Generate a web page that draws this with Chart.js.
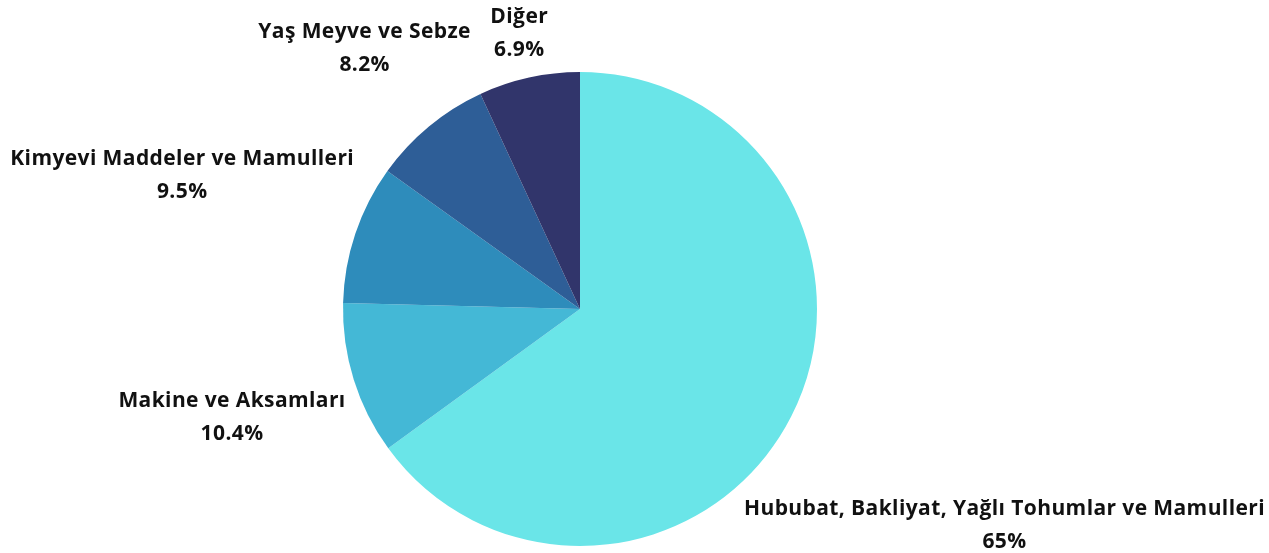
<!DOCTYPE html>
<html>
<head>
<meta charset="utf-8">
<script src="https://cdn.jsdelivr.net/npm/chart.js@4"></script>
<style>
    html, body { margin: 0; padding: 0; background: #fff; }
    #wrap { width: 1269px; height: 553px; position: relative; }
</style>
</head>
<body>
<div id="wrap"><canvas id="pieChart"></canvas></div>
<script>
const categories = [
    'Hububat, Bakliyat, Yağlı Tohumlar ve Mamulleri',
    'Makine ve Aksamları',
    'Kimyevi Maddeler ve Mamulleri',
    'Yaş Meyve ve Sebze',
    'Diğer'
];
const shares = [65, 10.4, 9.5, 8.2, 6.9];
const percentLabels = ['65%', '10.4%', '9.5%', '8.2%', '6.9%'];
const sliceColors = ['#6ae5e8', '#44b8d6', '#2e8cbb', '#2e5e97', '#31356b'];

const FONT = 'bold 21px "Open Sans", sans-serif';
const LINE_H = 33;

// two-line label outside each slice, pushed out along the mid angle
// and pulled back along the same ray if it would leave the canvas
const outsideLabels = {
    id: 'outsideLabels',
    afterDatasetsDraw(chart) {
        const ctx = chart.ctx;
        const arcs = chart.getDatasetMeta(0).data;
        ctx.save();
        ctx.font = FONT;
        ctx.letterSpacing = '0.4px';
        ctx.fillStyle = '#111';
        ctx.textAlign = 'center';
        ctx.textBaseline = 'middle';
        arcs.forEach((arc, i) => {
            const mid = (arc.startAngle + arc.endAngle) / 2;
            const c = Math.cos(mid), s = Math.sin(mid);
            const halfW = Math.max(ctx.measureText(categories[i]).width, ctx.measureText(percentLabels[i]).width) / 2;
            let dist = arc.outerRadius + 10 + Math.abs(c) * halfW + Math.abs(s) * 30;
            const maxX = chart.width - 4 - halfW, minX = 4 + halfW;
            if (c > 0 && arc.x + c * dist > maxX) dist = (maxX - arc.x) / c;
            if (c < 0 && arc.x + c * dist < minX) dist = (minX - arc.x) / c;
            const x = arc.x + c * dist;
            const y = arc.y + s * dist;
            ctx.fillText(categories[i], x, y - LINE_H / 2);
            ctx.fillText(percentLabels[i], x, y + LINE_H / 2);
        });
        ctx.restore();
    }
};

new Chart(document.getElementById('pieChart'), {
    type: 'pie',
    data: {
        labels: categories,
        datasets: [{
            data: shares,
            backgroundColor: sliceColors,
            borderWidth: 0
        }]
    },
    options: {
        responsive: true,
        maintainAspectRatio: false,
        animation: false,
        layout: { padding: { top: 72, bottom: 7, left: 343, right: 452 } },
        plugins: {
            legend: { display: false },
            tooltip: { enabled: false }
        }
    },
    plugins: [outsideLabels]
});
</script>
</body>
</html>
